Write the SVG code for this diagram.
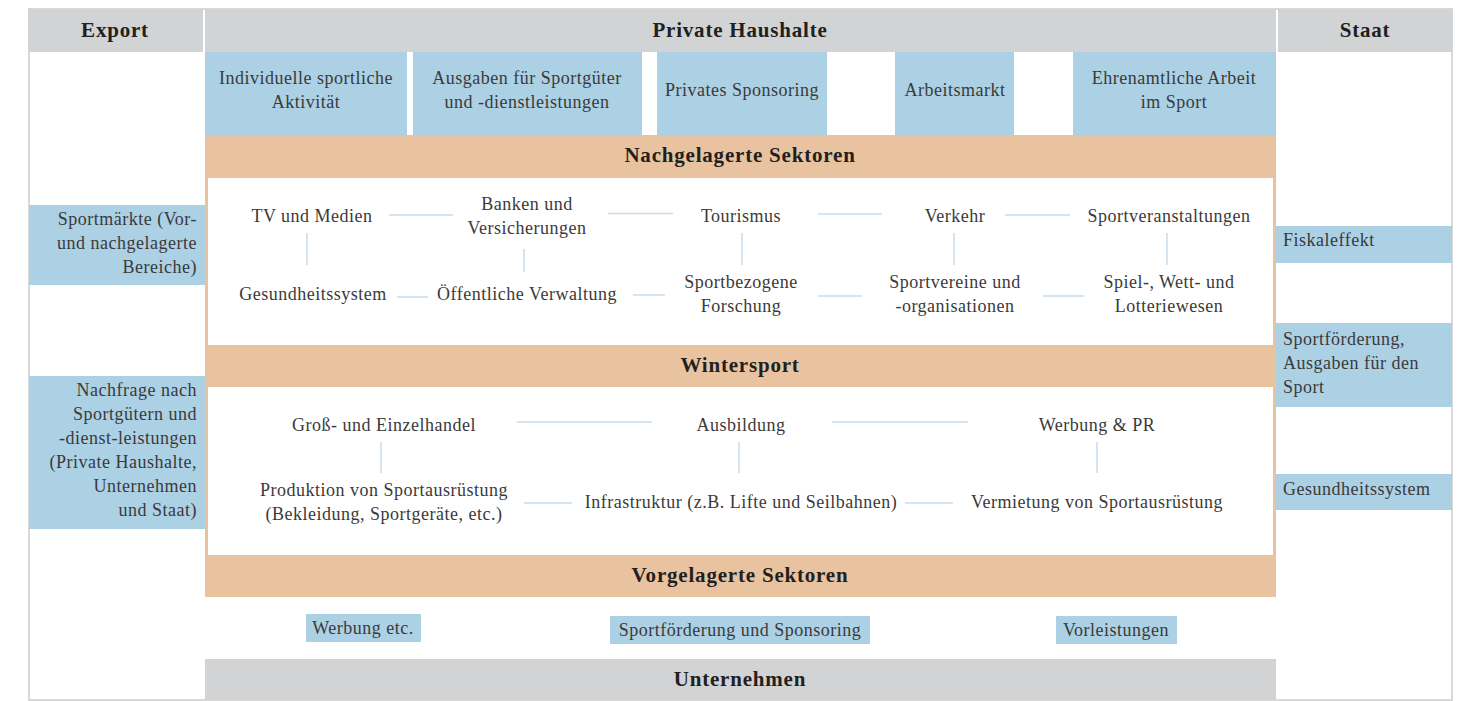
<svg xmlns="http://www.w3.org/2000/svg" width="1460" height="701" viewBox="0 0 1460 701">
<defs>
<style>
.hdr{fill:#d1d3d4}
.blue{fill:#acd0e4}
.org{fill:#e9c3a0}
.wht{fill:#ffffff}
.t{font-family:"Liberation Serif","Times New Roman",serif;font-size:18px;letter-spacing:0.5px;fill:#3a3a3a;text-anchor:middle}
.tl{text-anchor:start}
.tr{text-anchor:end}
.b{font-family:"Liberation Serif","Times New Roman",serif;font-size:21px;font-weight:bold;letter-spacing:0.8px;fill:#231f20;text-anchor:middle}
.c{stroke:#c6dcec;stroke-width:1.5;fill:none}
</style>
</defs>
<rect width="1460" height="701" fill="#ffffff"/>
<!-- outer frame -->
<rect x="29" y="9" width="1423" height="691" fill="#ffffff" stroke="#d9d9d9" stroke-width="2"/>

<g id="export-header"><rect class="hdr" x="28" y="9" width="175" height="43"/><text class="b" x="115" y="37">Export</text></g>
<g id="private-haushalte"><rect class="hdr" x="205" y="9" width="1071" height="43"/><text class="b" x="740" y="37">Private Haushalte</text></g>
<g id="staat-header"><rect class="hdr" x="1278" y="9" width="175" height="43"/><text class="b" x="1365" y="37">Staat</text></g>

<g id="individuelle"><rect class="blue" x="205" y="52" width="202" height="84"/><text class="t" x="306" y="84">Individuelle sportliche</text><text class="t" x="306" y="108">Aktivität</text></g>
<g id="ausgaben"><rect class="blue" x="413" y="52" width="229" height="84"/><text class="t" x="527" y="84">Ausgaben für Sportgüter</text><text class="t" x="527" y="108">und -dienstleistungen</text></g>
<g id="sponsoring"><rect class="blue" x="657" y="52" width="170" height="84"/><text class="t" x="742" y="96">Privates Sponsoring</text></g>
<g id="arbeitsmarkt"><rect class="blue" x="895" y="52" width="119" height="84"/><text class="t" x="955" y="96">Arbeitsmarkt</text></g>
<g id="ehrenamt"><rect class="blue" x="1073" y="52" width="203" height="84"/><text class="t" x="1174" y="84">Ehrenamtliche Arbeit</text><text class="t" x="1174" y="108">im Sport</text></g>

<!-- orange block -->
<rect class="org" x="205" y="135" width="1071" height="462"/>
<rect class="wht" x="208" y="178" width="1065" height="167"/>
<rect class="wht" x="208" y="387" width="1065" height="168"/>
<g id="nachgelagerte"><text class="b" x="740" y="162">Nachgelagerte Sektoren</text></g>
<g id="wintersport"><text class="b" x="740" y="372">Wintersport</text></g>
<g id="vorgelagerte"><text class="b" x="740" y="582">Vorgelagerte Sektoren</text></g>

<g id="unternehmen"><rect class="hdr" x="205" y="659" width="1071" height="41"/><text class="b" x="740" y="686">Unternehmen</text></g>

<!-- left side -->
<g id="sportmaerkte"><rect class="blue" x="29" y="205" width="176" height="80"/><text class="t tr" x="197" y="225">Sportmärkte (Vor-</text><text class="t tr" x="197" y="249">und nachgelagerte</text><text class="t tr" x="197" y="273">Bereiche)</text></g>
<g id="nachfrage"><rect class="blue" x="29" y="376" width="176" height="153"/><text class="t tr" x="197" y="396">Nachfrage nach</text><text class="t tr" x="197" y="420">Sportgütern und</text><text class="t tr" x="197" y="444">-dienst-leistungen</text><text class="t tr" x="197" y="468">(Private Haushalte,</text><text class="t tr" x="197" y="492">Unternehmen</text><text class="t tr" x="197" y="516">und Staat)</text></g>

<!-- right side -->
<g id="fiskaleffekt"><rect class="blue" x="1276" y="226" width="176" height="37"/><text class="t tl" x="1283" y="246">Fiskaleffekt</text></g>
<g id="sportfoerderung-staat"><rect class="blue" x="1276" y="323" width="176" height="84"/><text class="t tl" x="1283" y="345">Sportförderung,</text><text class="t tl" x="1283" y="369">Ausgaben für den</text><text class="t tl" x="1283" y="393">Sport</text></g>
<g id="gesundheit-staat"><rect class="blue" x="1276" y="474" width="176" height="36"/><text class="t tl" x="1283" y="495">Gesundheitssystem</text></g>

<!-- bottom boxes -->
<g id="werbung-etc"><rect class="blue" x="306" y="614" width="115" height="28"/><text class="t" x="363" y="634">Werbung etc.</text></g>
<g id="sportfoerderung-sponsoring"><rect class="blue" x="610" y="616" width="260" height="28"/><text class="t" x="740" y="636">Sportförderung und Sponsoring</text></g>
<g id="vorleistungen"><rect class="blue" x="1056" y="616" width="121" height="28"/><text class="t" x="1116" y="636">Vorleistungen</text></g>

<!-- nachgelagerte nodes -->
<g id="tv"><text class="t" x="312" y="222">TV und Medien</text></g>
<g id="banken"><text class="t" x="527" y="210">Banken und</text><text class="t" x="527" y="234">Versicherungen</text></g>
<g id="tourismus"><text class="t" x="741" y="222">Tourismus</text></g>
<g id="verkehr"><text class="t" x="955" y="222">Verkehr</text></g>
<g id="sportveranstaltungen"><text class="t" x="1169" y="222">Sportveranstaltungen</text></g>
<g id="gesundheitssystem"><text class="t" x="313" y="300">Gesundheitssystem</text></g>
<g id="verwaltung"><text class="t" x="527" y="300">Öffentliche Verwaltung</text></g>
<g id="forschung"><text class="t" x="741" y="288">Sportbezogene</text><text class="t" x="741" y="312">Forschung</text></g>
<g id="sportvereine"><text class="t" x="955" y="288">Sportvereine und</text><text class="t" x="955" y="312">-organisationen</text></g>
<g id="spiel"><text class="t" x="1169" y="288">Spiel-, Wett- und</text><text class="t" x="1169" y="312">Lotteriewesen</text></g>

<!-- wintersport nodes -->
<g id="handel"><text class="t" x="384" y="431">Groß- und Einzelhandel</text></g>
<g id="ausbildung"><text class="t" x="741" y="431">Ausbildung</text></g>
<g id="werbung-pr"><text class="t" x="1097" y="431">Werbung &amp; PR</text></g>
<g id="produktion"><text class="t" x="384" y="496">Produktion von Sportausrüstung</text><text class="t" x="384" y="520">(Bekleidung, Sportgeräte, etc.)</text></g>
<g id="infrastruktur"><text class="t" x="741" y="508">Infrastruktur (z.B. Lifte und Seilbahnen)</text></g>
<g id="vermietung"><text class="t" x="1097" y="508">Vermietung von Sportausrüstung</text></g>

<g id="connectors">
<line class="c" x1="389" y1="215" x2="453" y2="215"/>
<line class="c" x1="608" y1="213.5" x2="673" y2="213.5"/>
<line class="c" x1="818" y1="214" x2="882" y2="214"/>
<line class="c" x1="1005" y1="215" x2="1070" y2="215"/>
<line class="c" x1="397" y1="297" x2="428" y2="297"/>
<line class="c" x1="633" y1="295" x2="665" y2="295"/>
<line class="c" x1="818" y1="296" x2="862" y2="296"/>
<line class="c" x1="1043" y1="296" x2="1084" y2="296"/>
<line class="c" x1="307" y1="233" x2="307" y2="265"/>
<line class="c" x1="524" y1="249" x2="524" y2="272"/>
<line class="c" x1="742" y1="233" x2="742" y2="265"/>
<line class="c" x1="954" y1="233" x2="954" y2="265"/>
<line class="c" x1="1167" y1="233" x2="1167" y2="265"/>
<line class="c" x1="517" y1="422" x2="652" y2="422"/>
<line class="c" x1="832" y1="422" x2="968" y2="422"/>
<line class="c" x1="524" y1="503" x2="572" y2="503"/>
<line class="c" x1="905" y1="503" x2="953" y2="503"/>
<line class="c" x1="381" y1="442" x2="381" y2="473"/>
<line class="c" x1="739" y1="442" x2="739" y2="473"/>
<line class="c" x1="1097" y1="442" x2="1097" y2="473"/>
</g>
</svg>
